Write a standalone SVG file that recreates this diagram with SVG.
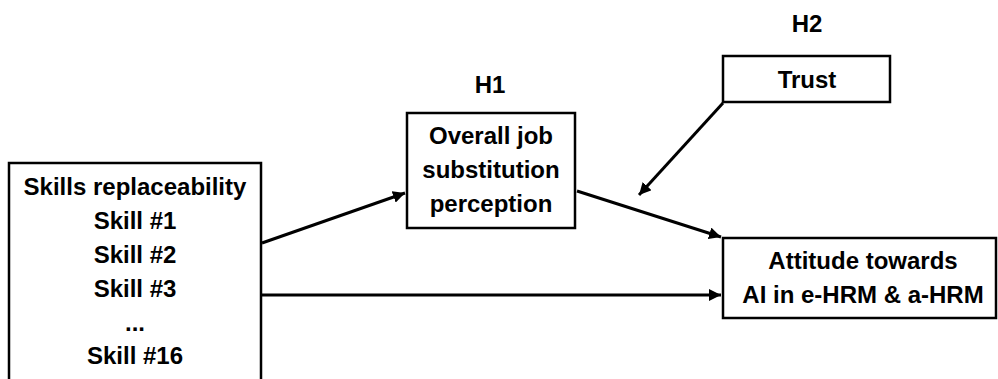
<svg xmlns="http://www.w3.org/2000/svg" width="998" height="379" viewBox="0 0 998 379">
<style>
.box{fill:#fff;stroke:#000;stroke-width:2.5}
.t{font-family:"Liberation Sans",Arial,sans-serif;font-weight:bold;font-size:24px;fill:#000;text-anchor:middle}
.c{stroke:#000;stroke-width:3;fill:none;marker-end:url(#ah)}
</style>
<defs>
<marker id="ah" viewBox="0 0 10 10" refX="10" refY="5" markerWidth="4" markerHeight="4" orient="auto" markerUnits="strokeWidth">
<path d="M0,0 L10,5 L0,10 z" fill="#000"/>
</marker>
</defs>
<g id="connectors">
<line class="c" x1="262" y1="243" x2="405" y2="193"/>
<line class="c" x1="577" y1="191" x2="721" y2="237"/>
<line class="c" x1="723" y1="103" x2="639" y2="195"/>
<line class="c" x1="262" y1="295" x2="721" y2="295"/>
</g>
<g id="skills">
<rect class="box" x="9" y="163" width="252" height="230"/>
<text class="t" x="135" y="195">Skills replaceability</text>
<text class="t" x="135" y="229">Skill #1</text>
<text class="t" x="135" y="263">Skill #2</text>
<text class="t" x="135" y="297">Skill #3</text>
<text class="t" x="135" y="331">...</text>
<text class="t" x="135" y="364">Skill #16</text>
</g>
<g id="h1">
<text class="t" x="490" y="93">H1</text>
<rect class="box" x="407" y="113" width="168" height="115"/>
<text class="t" x="491" y="144">Overall job</text>
<text class="t" x="491" y="178">substitution</text>
<text class="t" x="491" y="212">perception</text>
</g>
<g id="trust">
<text class="t" x="807" y="32">H2</text>
<rect class="box" x="723" y="56" width="167" height="46"/>
<text class="t" x="807" y="88">Trust</text>
</g>
<g id="attitude">
<rect class="box" x="723" y="238" width="273" height="80"/>
<text class="t" x="863" y="269">Attitude towards</text>
<text class="t" x="863" y="303">AI in e-HRM &amp; a-HRM</text>
</g>
</svg>
